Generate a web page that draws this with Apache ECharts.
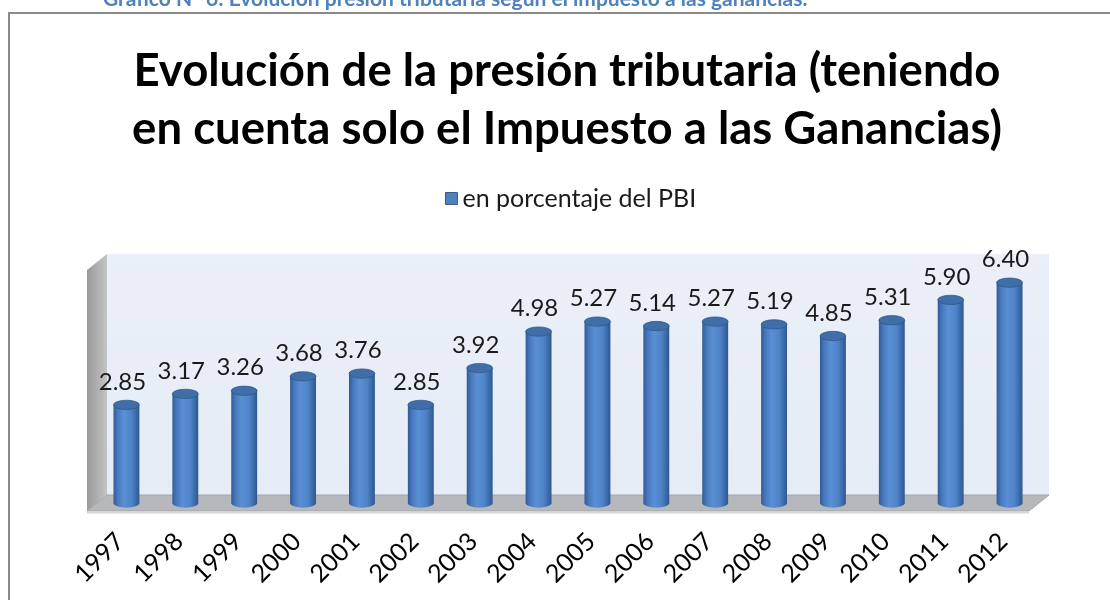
<!DOCTYPE html>
<html>
<head>
<meta charset="utf-8">
<script src="https://cdn.jsdelivr.net/npm/echarts@6/dist/echarts.min.js"></script>
<style>
html,body{margin:0;padding:0;background:#fff;}
#main{width:1110px;height:600px;}
</style>
</head>
<body>
<div id="main"></div>
<script>
const categories = ['1997','1998','1999','2000','2001','2002','2003','2004','2005','2006','2007','2008','2009','2010','2011','2012'];
const values = [2.85, 3.17, 3.26, 3.68, 3.76, 2.85, 3.92, 4.98, 5.27, 5.14, 5.27, 5.19, 4.85, 5.31, 5.90, 6.40];
const seriesName = 'en porcentaje del PBI';
const titleLines = ['Evolución de la presión tributaria (teniendo', 'en cuenta solo el Impuesto a las Ganancias)'];
const caption = 'Gráfico N° 6: Evolución presión tributaria según el impuesto a las ganancias.';

const FONT = 'Lato, "Open Sans", sans-serif';
const DX = 10, DY = 8;

const chart = echarts.init(document.getElementById('main'));

function renderWalls(params, api) {
  const cs = params.coordSys;
  const x = cs.x, y = cs.y, w = cs.width, h = cs.height;
  return {
    type: 'group',
    children: [
      { type: 'rect', shape: { x: x + DX, y: y - DY, width: w, height: h },
        style: { fill: new echarts.graphic.LinearGradient(0, 0, 0, 1, [
          { offset: 0, color: '#eaeff8' }, { offset: 1, color: '#e6ecf6' }]) } },
      { type: 'polygon', shape: { points: [[x - DX, y + DY], [x + DX, y - DY], [x + DX, y + h - DY], [x - DX, y + h + DY]] },
        style: { fill: new echarts.graphic.LinearGradient(0, 0, 1, 0, [
          { offset: 0, color: '#9a9a9a' }, { offset: 1, color: '#c4c4c4' }]) } },
      { type: 'polygon', shape: { points: [[x - DX, y + h + DY], [x + DX, y + h - DY], [x + w + DX, y + h - DY], [x + w - DX, y + h + DY]] },
        style: { fill: '#b6b8bb', stroke: '#a4a6a9', lineWidth: 1 } },
      { type: 'line', shape: { x1: x - DX, y1: y + h + DY + 1.5, x2: x + w - DX, y2: y + h + DY + 1.5 },
        style: { stroke: '#d4d5d7', lineWidth: 2 } }
    ]
  };
}

function renderCyl(params, api) {
  const idx = api.value(0);
  const v = api.value(1);
  const top = api.coord([idx, v]);
  const base = api.coord([idx, 0]);
  const cx = top[0];
  const bw = api.size([1, 0])[0] * 0.44;
  const r = bw / 2;
  const sy = 0.36;
  const grad = new echarts.graphic.LinearGradient(0, 0, 1, 0, [
    { offset: 0, color: '#2f5b96' },
    { offset: 0.15, color: '#4677bb' },
    { offset: 0.4, color: '#5a8fd5' },
    { offset: 0.7, color: '#4e83c8' },
    { offset: 1, color: '#2d5890' }
  ]);
  return {
    type: 'group',
    children: [
      { type: 'circle', x: cx, y: base[1], scaleY: sy, shape: { cx: 0, cy: 0, r: r },
        style: { fill: grad } },
      { type: 'rect', shape: { x: cx - r, y: top[1], width: bw, height: base[1] - top[1] },
        style: { fill: grad } },
      { type: 'circle', x: cx, y: top[1], scaleY: sy, shape: { cx: 0, cy: 0, r: r },
        style: { fill: '#3f6ea9', stroke: '#2c5283', lineWidth: 1 } },
      { type: 'text', x: cx - 4, y: top[1] - 11,
        style: { text: v.toFixed(2), fill: '#1a1a1a', font: '24px ' + FONT, textAlign: 'center', textVerticalAlign: 'bottom' } }
    ]
  };
}

chart.setOption({
  animation: false,
  title: {
    text: titleLines.join('\n'),
    left: 562, textAlign: 'center', top: 37,
    textStyle: { fontFamily: FONT, fontWeight: 'bold', fontSize: 45.5, lineHeight: 58, color: '#000' }
  },
  legend: {
    data: [{ name: seriesName, icon: 'rect' }],
    top: 181, left: 440,
    itemWidth: 12, itemHeight: 12, itemGap: 6,
    itemStyle: { color: '#4f81bd', borderColor: '#385d8a', borderWidth: 1 },
    textStyle: { fontFamily: FONT, fontSize: 25, color: '#1a1a1a' }
  },
  graphic: [
    { type: 'polyline', shape: { points: [[9, 600], [9, 13], [1110, 13]] }, style: { stroke: '#8a8a8a', lineWidth: 2, fill: null } },
    { type: 'text', x: 103, y: 10, style: { text: caption, fill: '#4f81bd', font: 'bold 21px ' + FONT, textVerticalAlign: 'bottom' } }
  ],
  grid: { left: 97, right: 71, top: 262, bottom: 97 },
  xAxis: {
    type: 'category', data: categories,
    axisLine: { show: false }, axisTick: { show: false },
    axisLabel: { interval: 0, rotate: 45, margin: 28, padding: [0, 9, 0, 0], fontFamily: FONT, fontSize: 25, color: '#000' }
  },
  yAxis: { type: 'value', min: 0, max: 7, show: false, splitLine: { show: false } },
  series: [
    { type: 'custom', name: 'walls', renderItem: renderWalls, data: [[0, 0]], silent: true, z: 1 },
    { type: 'custom', name: seriesName, renderItem: renderCyl, itemStyle: { color: '#4f81bd' },
      data: values.map((v, i) => [i, v]), encode: { x: 0, y: 1 }, z: 2 }
  ]
});
</script>
</body>
</html>
